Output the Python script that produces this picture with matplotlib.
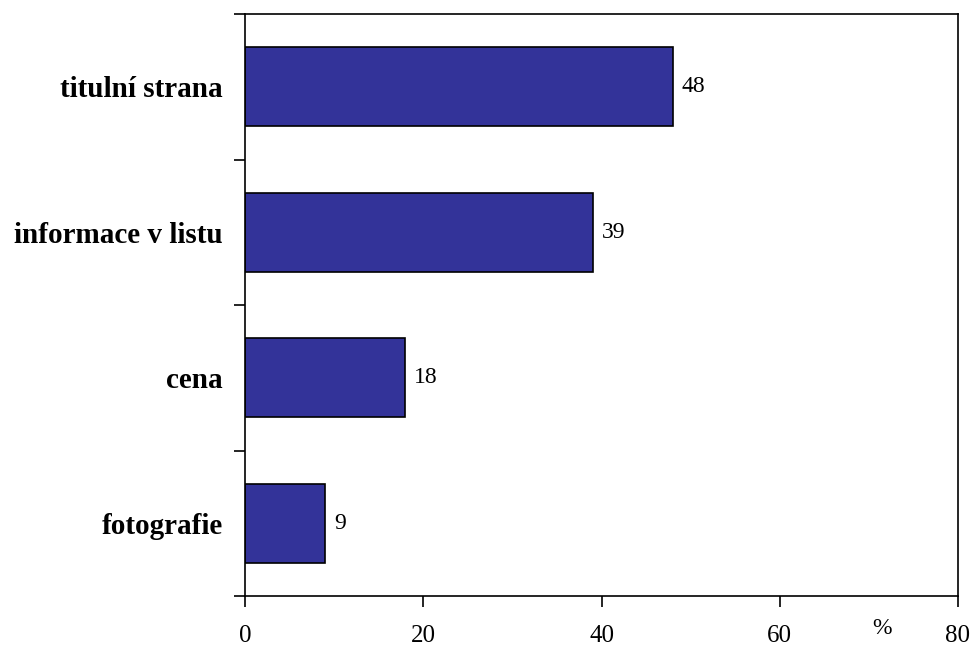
import numpy as np
import matplotlib.pyplot as plt

kategorie = ['titulní strana', 'informace v listu', 'cena', 'fotografie']
hodnoty = [48, 39, 18, 9]
x_ticks = [0, 20, 40, 60, 80]

plt.rcParams['font.family'] = ['Liberation Serif', 'DejaVu Serif']

fig = plt.figure(figsize=(9.75, 6.46), dpi=100)
ax = fig.add_axes([245 / 975, 1 - 596 / 646, (958 - 245) / 975, (596 - 14) / 646])

pos = np.arange(len(kategorie))
ax.barh(pos, hodnoty, height=0.54, color='#333399', edgecolor='black', linewidth=1.2)

for p, v in zip(pos, hodnoty):
    ax.text(v + 1.0, p, str(v), va='center', ha='left', fontsize=17)

ax.set_ylim(len(kategorie) - 0.5, -0.5)
ax.set_xlim(0, 80)

ax.set_yticks(pos)
ax.set_yticklabels(kategorie, fontsize=21, fontweight='bold')
ax.tick_params(axis='y', which='major', length=0, pad=16)
ax.set_yticks(np.arange(len(kategorie) + 1) - 0.5, minor=True)
ax.tick_params(axis='y', which='minor', length=8, width=1.2, direction='out')

ax.set_xticks(x_ticks)
ax.set_xticklabels([str(t) for t in x_ticks], fontsize=18)
ax.tick_params(axis='x', length=8, width=1.2, direction='out', pad=13)

for s in ax.spines.values():
    s.set_linewidth(1.2)

ax.text(71.5, -0.055, '%', transform=ax.get_xaxis_transform(), ha='center', va='center', fontsize=17)

fig.savefig('out.png', dpi=100)
